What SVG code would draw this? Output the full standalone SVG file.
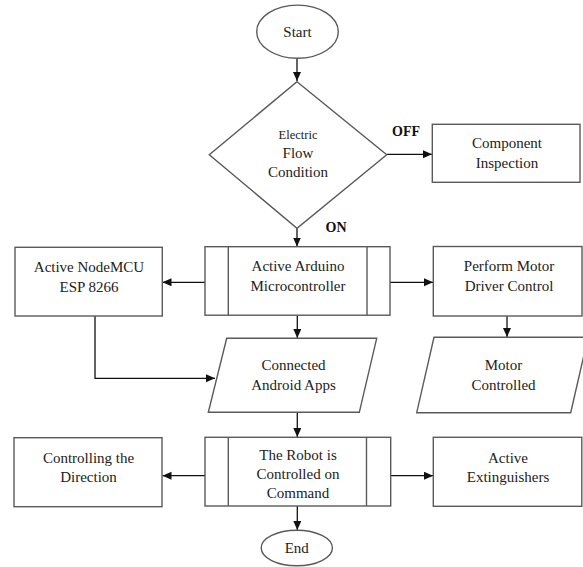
<svg xmlns="http://www.w3.org/2000/svg" width="583" height="567" viewBox="0 0 583 567" font-family="'Liberation Serif', 'Times New Roman', Times, 'DejaVu Serif', serif">
<style>
text{font-family:'Liberation Serif','Times New Roman',Times,'DejaVu Serif',serif}
.s{fill:#fff;stroke:#5a5a5a;stroke-width:1.4}
.t{font-size:15px;fill:#222;text-anchor:middle}
.b{font-size:14px;font-weight:bold;fill:#111;text-anchor:middle}
.c{fill:none;stroke:#111;stroke-width:1.3}
</style>
<defs>
<marker id="ah" markerUnits="userSpaceOnUse" markerWidth="10" markerHeight="10" refX="9" refY="4" orient="auto">
<path d="M0,0 L9,4 L0,8 Z" fill="#111"/>
</marker>
</defs>
<rect width="583" height="567" fill="#fff"/>
<g id="connectors">
<line class="c" x1="297" y1="58.5" x2="297" y2="81" marker-end="url(#ah)"/>
<line class="c" x1="386.7" y1="154.3" x2="432" y2="154.3" marker-end="url(#ah)"/>
<line class="c" x1="297" y1="228.3" x2="297" y2="246.5" marker-end="url(#ah)"/>
<line class="c" x1="205" y1="282.3" x2="162.5" y2="282.3" marker-end="url(#ah)"/>
<line class="c" x1="390" y1="282.3" x2="433" y2="282.3" marker-end="url(#ah)"/>
<line class="c" x1="297.3" y1="315.5" x2="297.3" y2="338" marker-end="url(#ah)"/>
<line class="c" x1="507" y1="316" x2="507" y2="337" marker-end="url(#ah)"/>
<polyline class="c" points="95,316 95,378.3 215,378.3" marker-end="url(#ah)"/>
<line class="c" x1="297.3" y1="412.3" x2="297.3" y2="437" marker-end="url(#ah)"/>
<line class="c" x1="205" y1="475.7" x2="162.5" y2="475.7" marker-end="url(#ah)"/>
<line class="c" x1="390.7" y1="475.7" x2="433" y2="475.7" marker-end="url(#ah)"/>
<line class="c" x1="297.3" y1="506" x2="297.3" y2="530" marker-end="url(#ah)"/>
<text class="b" x="406" y="136">OFF</text>
<text class="b" x="336" y="232">ON</text>
</g>
<g id="start">
<ellipse class="s" cx="297.5" cy="31.7" rx="40.8" ry="26.6"/>
<text class="t" x="297.5" y="37">Start</text>
</g>
<g id="decision">
<polygon class="s" points="297,81.7 386.7,154.7 297,228.3 209.3,154.7"/>
<text class="t" x="298" y="139" style="font-size:12.5px">Electric</text>
<text class="t" x="298" y="157.5">Flow</text>
<text class="t" x="298" y="177">Condition</text>
</g>
<g id="inspection">
<rect class="s" x="432.3" y="124.3" width="147.7" height="58"/>
<text class="t" x="507" y="148">Component</text>
<text class="t" x="507" y="168">Inspection</text>
</g>
<g id="arduino">
<rect class="s" x="205" y="246.7" width="185" height="68.5"/>
<line class="s" x1="228.3" y1="246.7" x2="228.3" y2="315.2"/>
<line class="s" x1="367" y1="246.7" x2="367" y2="315.2"/>
<text class="t" x="298" y="271">Active Arduino</text>
<text class="t" x="298" y="291">Microcontroller</text>
</g>
<g id="nodemcu">
<rect class="s" x="15" y="247.3" width="147.3" height="68.7"/>
<text class="t" x="89" y="272">Active NodeMCU</text>
<text class="t" x="89" y="292">ESP 8266</text>
</g>
<g id="motordriver">
<rect class="s" x="433.3" y="246.5" width="148.7" height="69.5"/>
<text class="t" x="509" y="271">Perform Motor</text>
<text class="t" x="509" y="291">Driver Control</text>
</g>
<g id="android">
<polygon class="s" points="226.7,338.3 376.7,338.3 359.3,412.3 208.3,412.3"/>
<text class="t" x="293.5" y="370">Connected</text>
<text class="t" x="293.5" y="390">Android Apps</text>
</g>
<g id="motorcontrolled">
<polygon class="s" points="434,337.3 588,337.3 570.7,412.7 416.7,412.7"/>
<text class="t" x="503.5" y="370">Motor</text>
<text class="t" x="503.5" y="390">Controlled</text>
</g>
<g id="robot">
<rect class="s" x="205" y="437.3" width="185.7" height="68.7"/>
<line class="s" x1="228.3" y1="437.3" x2="228.3" y2="506"/>
<line class="s" x1="366.5" y1="437.3" x2="366.5" y2="506"/>
<text class="t" x="298" y="460">The Robot is</text>
<text class="t" x="298" y="479">Controlled on</text>
<text class="t" x="298" y="498">Command</text>
</g>
<g id="direction">
<rect class="s" x="14" y="437.7" width="148" height="69"/>
<text class="t" x="88.5" y="463">Controlling the</text>
<text class="t" x="88.5" y="482">Direction</text>
</g>
<g id="extinguishers">
<rect class="s" x="433.3" y="437.3" width="148.5" height="69"/>
<text class="t" x="508" y="463">Active</text>
<text class="t" x="508" y="482">Extinguishers</text>
</g>
<g id="end">
<ellipse class="s" cx="296.8" cy="548" rx="35.6" ry="17.8"/>
<text class="t" x="296.8" y="553">End</text>
</g>
</svg>
